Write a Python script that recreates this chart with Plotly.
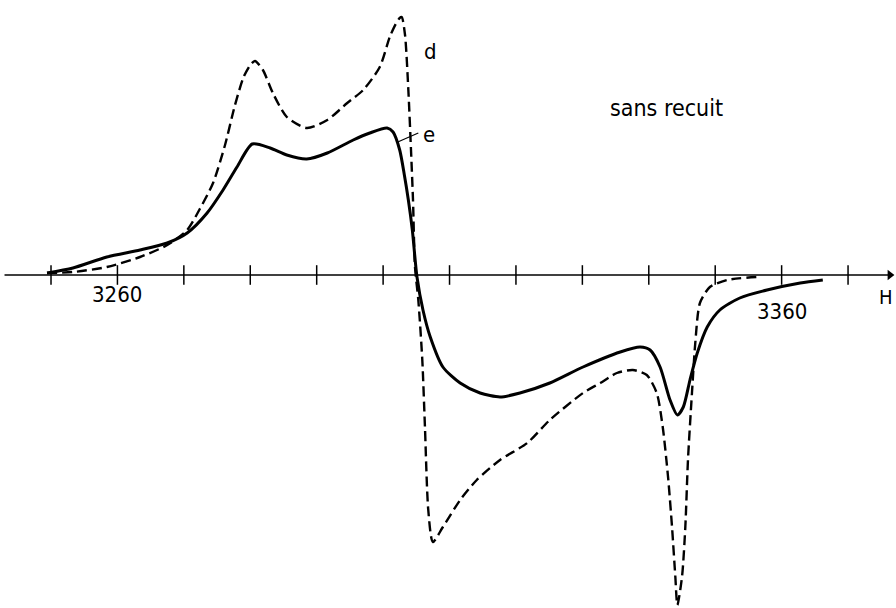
import plotly.graph_objects as go

# Magnetic field (G) and signal amplitude (arbitrary units)
field_e = [3249.4, 3253.3, 3258.4, 3263.4, 3267.5, 3270.5, 3273.5, 3275.9, 3278.0, 3280.3,
           3283.0, 3285.5, 3288.5, 3291.6, 3295.5, 3298.0, 3300.6, 3301.5, 3302.5, 3303.2,
           3303.8, 3304.4, 3305.1, 3306.0, 3307.1, 3309.0, 3311.6, 3314.6, 3317.6, 3320.6,
           3325.1, 3330.1, 3335.7, 3338.7, 3340.2, 3341.7, 3343.2, 3344.3, 3345.2, 3346.2,
           3347.3, 3348.8, 3350.7, 3353.7, 3357.8, 3362.8, 3366.2]
amp_e = [0.02, 0.07, 0.18, 0.25, 0.32, 0.42, 0.62, 0.85, 1.08, 1.31,
         1.27, 1.20, 1.16, 1.22, 1.35, 1.42, 1.47, 1.43, 1.25, 1.00,
         0.75, 0.45, -0.02, -0.35, -0.62, -0.92, -1.08, -1.18, -1.22, -1.18,
         -1.08, -0.92, -0.77, -0.72, -0.75, -0.92, -1.25, -1.40, -1.32, -1.05,
         -0.78, -0.52, -0.35, -0.23, -0.15, -0.08, -0.05]

field_d = [3249.4, 3253.3, 3258.4, 3263.4, 3267.5, 3270.5, 3272.4, 3274.4, 3276.2, 3277.7,
           3279.0, 3280.0, 3280.7, 3281.9, 3283.4, 3285.5, 3288.5, 3291.6, 3294.6, 3297.0,
           3299.5, 3301.0, 3301.9, 3302.5, 3302.8, 3303.3, 3303.8, 3304.2, 3304.5, 3304.8,
           3305.3, 3305.9, 3306.3, 3306.8, 3307.5, 3309.0, 3311.6, 3314.1, 3317.6, 3321.7,
           3325.1, 3330.1, 3332.7, 3335.2, 3337.6, 3339.7, 3341.2, 3342.1, 3342.9, 3343.5,
           3344.0, 3344.3, 3345.0, 3345.5, 3345.9, 3346.5, 3347.0, 3347.7, 3349.2, 3351.8,
           3356.3]
amp_d = [0.02, 0.03, 0.08, 0.18, 0.30, 0.45, 0.66, 0.92, 1.30, 1.70,
         1.98, 2.10, 2.14, 2.05, 1.82, 1.58, 1.47, 1.55, 1.72, 1.85,
         2.08, 2.38, 2.51, 2.57, 2.58, 2.40, 1.85, 1.25, 0.75, 0.08,
         -0.25, -0.85, -1.52, -2.35, -2.67, -2.52, -2.25, -2.05, -1.85, -1.68,
         -1.45, -1.18, -1.08, -0.98, -0.95, -1.00, -1.18, -1.52, -2.02, -2.52,
         -3.02, -3.30, -3.02, -2.52, -1.85, -1.18, -0.68, -0.28, -0.12, -0.05,
         -0.02]

tick_values = list(range(3250, 3371, 10))
labelled_ticks = [3260, 3360]
tick_labels = ["3260", "3360"]
label_offsets = [-0.19, -0.36]
axis_extent = [3243.0, 3376.3]

curve_labels = ["d", "e"]
curve_label_pos = [(3307.2, 2.24), (3306.9, 1.41)]
title_text = "sans recuit"
axis_name = "H"

FONT = "Liberation Sans Narrow, DejaVu Sans Condensed, Arial Narrow, sans-serif"

fig = go.Figure()

# horizontal field axis
fig.add_trace(go.Scatter(x=axis_extent, y=[0, 0], mode="lines",
                         line=dict(color="black", width=1.5), hoverinfo="skip"))
fig.add_trace(go.Scatter(x=[axis_extent[1]], y=[0], mode="markers",
                         marker=dict(symbol="triangle-right", size=9, color="black"),
                         hoverinfo="skip"))
fig.add_trace(go.Scatter(x=tick_values, y=[0] * len(tick_values), mode="markers",
                         marker=dict(symbol="line-ns", size=14,
                                     line=dict(color="black", width=1.5)),
                         hoverinfo="skip"))

# curve d (dashed)
fig.add_trace(go.Scatter(x=field_d, y=amp_d, mode="lines",
                         line=dict(color="black", width=2.4, dash="10px,5px",
                                   shape="spline", smoothing=0.7)))
# curve e (solid)
fig.add_trace(go.Scatter(x=field_e, y=amp_e, mode="lines",
                         line=dict(color="black", width=3,
                                   shape="spline", smoothing=0.7)))

# leader line for label e
fig.add_trace(go.Scatter(x=[3302.2, 3305.3], y=[1.33, 1.42], mode="lines",
                         line=dict(color="black", width=1.2), hoverinfo="skip"))

for v, t, off in zip(labelled_ticks, tick_labels, label_offsets):
    fig.add_annotation(x=v, y=off, text=t, showarrow=False,
                       font=dict(family=FONT, size=22, color="black"),
                       xanchor="center", yanchor="middle")

for t, (xv, yv) in zip(curve_labels, curve_label_pos):
    fig.add_annotation(x=xv, y=yv, text=t, showarrow=False,
                       font=dict(family=FONT, size=22, color="black"),
                       xanchor="center", yanchor="middle")

fig.add_annotation(x=3342.6, y=1.67, text=title_text, showarrow=False,
                   font=dict(family=FONT, size=23, color="black"),
                   xanchor="center", yanchor="middle")

fig.add_annotation(x=1.0, xref="paper", y=-0.22, text=axis_name, showarrow=False,
                   font=dict(family=FONT, size=20, color="black"),
                   xanchor="right", yanchor="middle", xshift=-1)

fig.update_layout(
    width=896, height=608,
    margin=dict(l=0, r=0, t=0, b=0),
    paper_bgcolor="white", plot_bgcolor="white",
    showlegend=False,
    xaxis=dict(range=[3242.32, 3377.22], visible=False, fixedrange=True),
    yaxis=dict(range=[-3.33, 2.75], visible=False, fixedrange=True),
)

fig.write_html("out.html")
